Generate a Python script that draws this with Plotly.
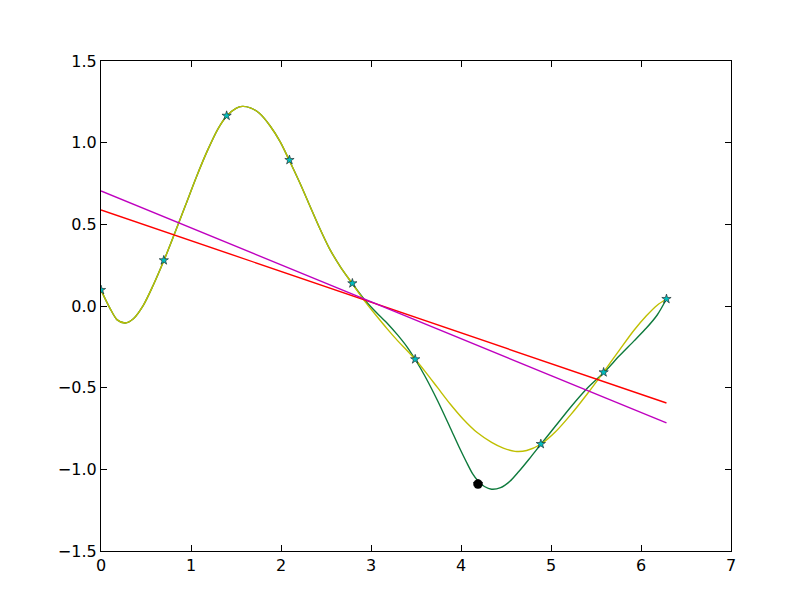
import plotly.graph_objects as go

# Sample points (stars)
pts_x = [0.0, 0.698, 1.396, 2.094, 2.793, 3.491, 4.189, 4.887, 5.585, 6.283]
pts_y = [0.098, 0.28, 1.165, 0.894, 0.139, -0.326, -1.09, -0.845, -0.406, 0.043]

# Highlighted point
dot_x = [4.189]
dot_y = [-1.09]

# Green curve (interpolating spline)
green_x = [0.0, 0.1, 0.18, 0.27, 0.36, 0.47, 0.58, 0.70, 0.82, 0.94, 1.06, 1.18,
           1.30, 1.40, 1.50, 1.57, 1.66, 1.76, 1.88, 1.99, 2.09, 2.21, 2.32, 2.43, 2.54, 2.66,
           2.79, 2.93, 3.06, 3.18, 3.30, 3.40, 3.49, 3.60, 3.74, 3.88, 3.98, 4.06, 4.13, 4.19,
           4.26, 4.34, 4.44, 4.54, 4.64, 4.76, 4.89, 5.05, 5.22, 5.40, 5.59, 5.76, 5.92, 6.06,
           6.18, 6.283]
green_y = [0.098, -0.014, -0.085, -0.104, -0.078, 0.004, 0.127, 0.28, 0.447, 0.618, 0.790,
           0.948, 1.085, 1.165, 1.210, 1.222, 1.213, 1.180, 1.102, 1.006, 0.894, 0.753, 0.614,
           0.476, 0.350, 0.240, 0.139, 0.037, -0.040, -0.105, -0.180, -0.250, -0.326, -0.430,
           -0.580, -0.745, -0.865, -0.955, -1.028, -1.072, -1.105, -1.122, -1.112, -1.075,
           -1.015, -0.935, -0.845, -0.735, -0.618, -0.505, -0.406, -0.305, -0.215, -0.135,
           -0.055, 0.043]

# Yellow curve (smoother fit)
yellow_x = [0.0, 0.1, 0.18, 0.27, 0.36, 0.47, 0.58, 0.70, 0.82, 0.94, 1.06, 1.18,
            1.30, 1.40, 1.50, 1.57, 1.66, 1.76, 1.88, 1.99, 2.09, 2.21, 2.32, 2.43, 2.54, 2.66,
            2.79, 2.93, 3.06, 3.18, 3.30, 3.40, 3.49, 3.60, 3.74, 3.88, 4.02, 4.18, 4.34, 4.47,
            4.60, 4.73, 4.89, 5.05, 5.22, 5.40, 5.59, 5.76, 5.92, 6.06, 6.18, 6.283]
yellow_y = [0.098, -0.014, -0.085, -0.104, -0.078, 0.004, 0.127, 0.28, 0.447, 0.618, 0.790,
            0.948, 1.085, 1.165, 1.210, 1.222, 1.213, 1.180, 1.102, 1.006, 0.894, 0.753, 0.614,
            0.476, 0.350, 0.240, 0.139, 0.030, -0.060, -0.140, -0.215, -0.272, -0.326, -0.400,
            -0.500, -0.600, -0.690, -0.775, -0.835, -0.870, -0.890, -0.885, -0.845, -0.770,
            -0.665, -0.540, -0.400, -0.270, -0.150, -0.060, 0.005, 0.043]

# Linear fits
red_x = [0.0, 6.283]
red_y = [0.588, -0.594]
mag_x = [0.0, 6.283]
mag_y = [0.704, -0.716]

x_ticks = [0, 1, 2, 3, 4, 5, 6, 7]
y_ticks = [-1.5, -1.0, -0.5, 0.0, 0.5, 1.0, 1.5]

fig = go.Figure()
fig.add_trace(go.Scatter(x=green_x, y=green_y, mode="lines",
                         line=dict(color="#0E7A3C", width=1.4, shape="spline", smoothing=0.8)))
fig.add_trace(go.Scatter(x=yellow_x, y=yellow_y, mode="lines",
                         line=dict(color="#BFBF00", width=1.4, shape="spline", smoothing=0.8)))
fig.add_trace(go.Scatter(x=red_x, y=red_y, mode="lines", line=dict(color="#FF0000", width=1.4)))
fig.add_trace(go.Scatter(x=mag_x, y=mag_y, mode="lines", line=dict(color="#BF00BF", width=1.4)))
fig.add_trace(go.Scatter(x=pts_x, y=pts_y, mode="markers",
                         marker=dict(symbol="star", size=7, color="#00BFBF",
                                     line=dict(color="#1a1a1a", width=0.6))))
fig.add_trace(go.Scatter(x=dot_x, y=dot_y, mode="markers",
                         marker=dict(symbol="circle", size=9, color="#000000",
                                     line=dict(color="#000000", width=0.5))))

axis_common = dict(showgrid=False, zeroline=False, showline=True, linecolor="black",
                   linewidth=1.2, mirror="ticks", ticks="inside", ticklen=6,
                   tickcolor="black", tickwidth=1,
                   tickfont=dict(family="DejaVu Sans", size=16, color="black"))
fig.update_xaxes(range=[0, 7], tickvals=x_ticks, ticktext=[str(v) for v in x_ticks], **axis_common)
fig.update_yaxes(range=[-1.5, 1.5], tickvals=y_ticks,
                 ticktext=[("\u2212" if v < 0 else "") + f"{abs(v):.1f}" for v in y_ticks],
                 **axis_common)
fig.update_layout(width=800, height=600, showlegend=False,
                  margin=dict(l=93, r=77, t=53, b=57),
                  paper_bgcolor="white", plot_bgcolor="white")
fig.write_html("out.html")
